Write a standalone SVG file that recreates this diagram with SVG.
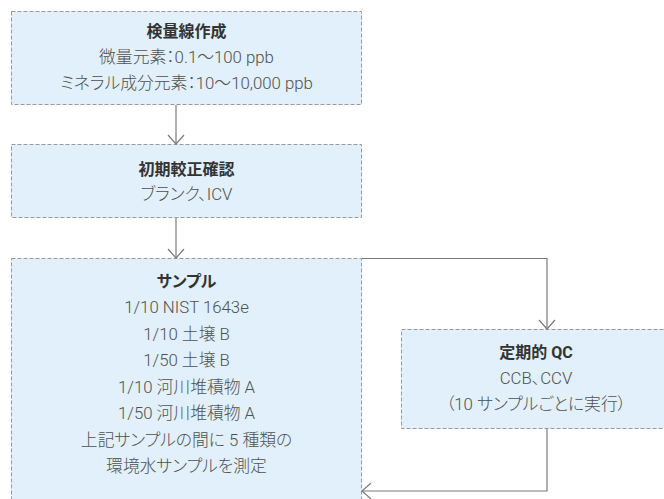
<svg xmlns="http://www.w3.org/2000/svg" width="664" height="499" viewBox="0 0 664 499">
<defs>
<style>
.box{fill:#e1f0fa;stroke:#999;stroke-width:1;stroke-dasharray:4 2}
.t{font-family:Roboto,"Noto Sans CJK JP",sans-serif;font-size:16px;fill:#333;font-weight:bold;text-anchor:middle;font-feature-settings:"palt"}
.s{font-family:Roboto,"Noto Sans CJK JP",sans-serif;font-size:16.8px;fill:#505050;font-weight:300;text-anchor:middle;font-feature-settings:"palt"}
.c{fill:none;stroke:#7a7a7a;stroke-width:1.2}
</style>
<marker id="ah" viewBox="0 0 20 20" refX="10" refY="10" markerWidth="20" markerHeight="20" markerUnits="userSpaceOnUse" orient="auto">
<path d="M1,2 L10,10 L1,18" fill="none" stroke="#7a7a7a" stroke-width="1.2"/>
</marker>
</defs>
<rect width="664" height="499" fill="#fff"/>
<g id="n1">
<rect class="box" x="11.5" y="11.5" width="350" height="93"/>
<text class="t" x="186.5" y="37">検量線作成</text>
<text class="s" x="186.5" y="63">微量元素：0.1〜100 ppb</text>
<text class="s" x="186.5" y="89">ミネラル成分元素：10〜10,000 ppb</text>
</g>
<g id="n2">
<rect class="box" x="11.5" y="144.5" width="350" height="73"/>
<text class="t" x="186.5" y="175">初期較正確認</text>
<text class="s" x="186.5" y="200">ブランク、ICV</text>
</g>
<g id="n3">
<rect class="box" x="11.5" y="258.5" width="350" height="260"/>
<text class="t" x="186.5" y="287">サンプル</text>
<text class="s" x="186.5" y="313">1/10 NIST 1643e</text>
<text class="s" x="186.5" y="339.5">1/10 土壌 B</text>
<text class="s" x="186.5" y="366">1/50 土壌 B</text>
<text class="s" x="186.5" y="392.5">1/10 河川堆積物 A</text>
<text class="s" x="186.5" y="419">1/50 河川堆積物 A</text>
<text class="s" x="186.5" y="445.5">上記サンプルの間に 5 種類の</text>
<text class="s" x="186.5" y="472">環境水サンプルを測定</text>
</g>
<g id="n4">
<rect class="box" x="401.5" y="329.5" width="270" height="99"/>
<text class="t" x="536" y="358">定期的 QC</text>
<text class="s" x="536" y="384">CCB、CCV</text>
<text class="s" x="536" y="410">（10 サンプルごとに実行）</text>
</g>
<g id="connectors">
<path class="c" d="M176,105 V144" marker-end="url(#ah)"/>
<path class="c" d="M176,218 V258" marker-end="url(#ah)"/>
<path class="c" d="M362,258.5 H547 V329" marker-end="url(#ah)"/>
<path class="c" d="M547,429 V491 H362" marker-end="url(#ah)"/>
</g>
</svg>
